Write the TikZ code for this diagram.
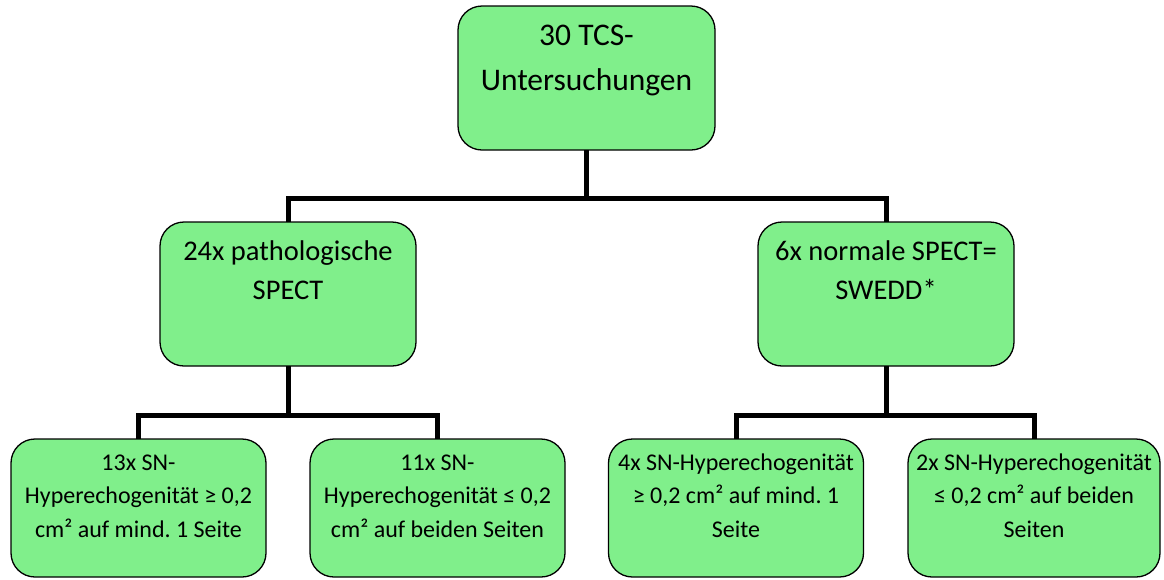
\documentclass[tikz,border=0pt]{standalone}
\usepackage{fontspec}
\setmainfont{Carlito}
\frenchspacing
\definecolor{boxgreen}{RGB}{128,239,139}
\newcommand\boxtxt[6]{\parbox[c][#2pt][t]{#1pt}{\centering\frenchspacing\fontsize{#3}{#4}\selectfont\rule{0pt}{#5pt}#6\par}}
\begin{document}
\begin{tikzpicture}[x=1pt,y=-1pt,
  gbox/.style={draw=black, line width=1.3pt, fill=boxgreen, rounded corners=24pt, inner sep=0pt, outer sep=0pt},
  conn/.style={line width=5pt, line join=miter}]
\useasboundingbox (0,0) rectangle (1164,579);
\node[gbox] (top) at (586.5,78) {\boxtxt{257}{144}{31.5}{45}{39}{30 TCS-\\Untersuchungen}};
\node[gbox] (ml) at (288,294) {\boxtxt{256}{144}{28.5}{39}{38}{24x pathologische\\SPECT}};
\node[gbox] (mr) at (886,294) {\boxtxt{256}{144}{28.5}{39}{38}{6x normale SPECT=\\SWEDD*}};
\node[gbox] (b1) at (138.5,508) {\boxtxt{255}{138}{24}{33.5}{31}{13x SN-\\Hyperechogenität ≥ 0,2\\cm² auf mind. 1 Seite}};
\node[gbox] (b2) at (437.5,508) {\boxtxt{255}{138}{24}{33.5}{31}{11x SN-\\Hyperechogenität ≤ 0,2\\cm² auf beiden Seiten}};
\node[gbox] (b3) at (736,508) {\boxtxt{255}{138}{24}{33.5}{31}{4x SN-Hyperechogenität\\≥ 0,2 cm² auf mind. 1\\Seite}};
\node[gbox] (b4) at (1034,508) {\boxtxt{252}{138}{24}{33.5}{31}{2x SN-Hyperechogenität\\≤ 0,2 cm² auf beiden\\Seiten}};
\coordinate (j0) at (586.5,198);
\coordinate (j1) at (288,415);
\coordinate (j2) at (886,415);
\draw[conn] (top.south) -- (j0) -| (ml.north);
\draw[conn] (j0) -| (mr.north);
\draw[conn] (ml.south) -- (j1) -| (b1.north);
\draw[conn] (j1) -| (b2.north);
\draw[conn] (mr.south) -- (j2) -| (b3.north);
\draw[conn] (j2) -| (b4.north);
\end{tikzpicture}
\end{document}
